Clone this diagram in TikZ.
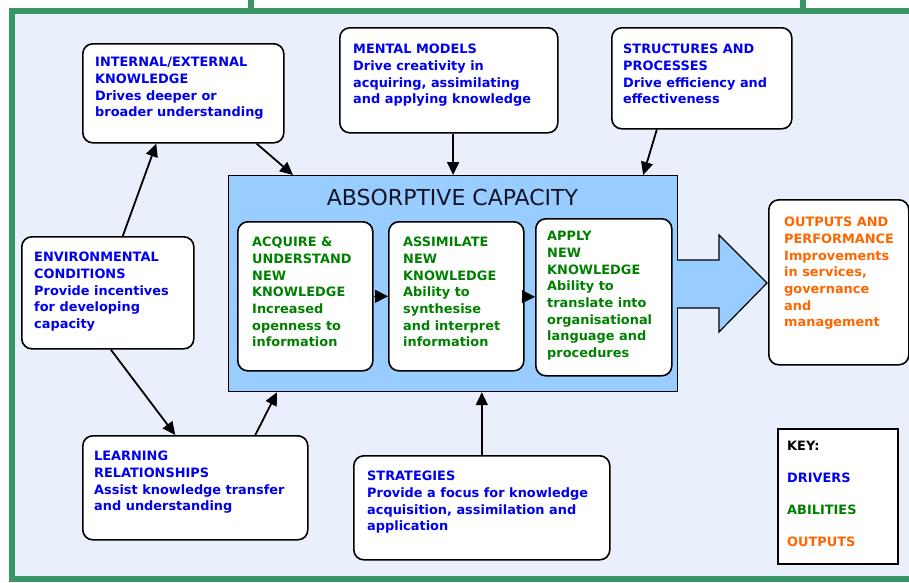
\documentclass[tikz,border=0pt]{standalone}
\usepackage{fontspec}
\setmainfont{DejaVu Sans}
\usetikzlibrary{arrows.meta,positioning}
\definecolor{drvblue}{RGB}{0,0,238}
\definecolor{ablgreen}{RGB}{0,128,0}
\definecolor{outorange}{RGB}{255,102,0}
\definecolor{capfill}{RGB}{153,204,255}
\definecolor{bgblue}{RGB}{234,240,251}
\definecolor{framegreen}{RGB}{56,150,100}
\definecolor{titleink}{RGB}{20,20,40}

\begin{document}
\begin{tikzpicture}[x=1pt,y=-1pt,
        box/.style={rectangle,draw,rounded corners=10pt,line width=1.6pt,fill=white,anchor=north west,inner sep=0pt},
        txt/.style={anchor=north west,inner sep=0pt,align=left,font=\bfseries\fontsize{12.9pt}{16.7pt}\selectfont},
        arrow/.style={-{Triangle[length=13pt,width=12pt]},line width=1.8pt},
        flow/.style={-{Triangle[length=13pt,width=13pt]},line width=1pt},
        frame/.style={framegreen,line width=6pt}
    ]
        \useasboundingbox (0,0) rectangle (909,582);
        \fill[bgblue] (12,11) rectangle (909,582);
        \draw[frame] (12,582) -- (12,11) -- (915,11);
        \draw[frame] (12,579) -- (915,579);
        \draw[frame] (251,0) -- (251,11);
        \draw[frame] (803,0) -- (803,11);

        % drivers
        \node[box,minimum width=201pt,minimum height=99pt] (intern) at (82,43) {};
        \node[txt,text=drvblue,below right=14pt and 13pt of intern.north west] (intern-t)
            {INTERNAL/EXTERNAL\\KNOWLEDGE\\Drives deeper or\\broader understanding};
        \node[box,minimum width=218pt,minimum height=105pt] (mental) at (339,27) {};
        \node[txt,text=drvblue,below right=17pt and 14pt of mental.north west] (mental-t)
            {MENTAL MODELS\\Drive creativity in\\acquiring, assimilating\\and applying knowledge};
        \node[box,minimum width=180pt,minimum height=101pt] (struct) at (611,27) {};
        \node[txt,text=drvblue,below right=17pt and 12pt of struct.north west] (struct-t)
            {STRUCTURES AND\\PROCESSES\\Drive efficiency and\\effectiveness};
        \node[box,minimum width=172pt,minimum height=112pt] (env) at (21,236) {};
        \node[txt,text=drvblue,below right=16pt and 13pt of env.north west] (env-t)
            {ENVIRONMENTAL\\CONDITIONS\\Provide incentives\\for developing\\capacity};
        \node[box,minimum width=225pt,minimum height=104pt] (learn) at (82,435) {};
        \node[txt,text=drvblue,below right=16pt and 12pt of learn.north west] (learn-t)
            {LEARNING\\RELATIONSHIPS\\Assist knowledge transfer\\and understanding};
        \node[box,minimum width=256pt,minimum height=104pt] (strat) at (353,455) {};
        \node[txt,text=drvblue,below right=16pt and 14pt of strat.north west] (strat-t)
            {STRATEGIES\\Provide a focus for knowledge\\acquisition, assimilation and\\application};

        % absorptive capacity
        \node[rectangle,draw,line width=1.2pt,fill=capfill,anchor=north west,minimum width=449pt,minimum height=216pt] (cap) at (228,175) {};
        \node[anchor=base,text=titleink,font=\fontsize{22pt}{26pt}\selectfont] (cap-t) at (452.5,205) {ABSORPTIVE CAPACITY};
        \fill[capfill] (675,260) -- (719,260) -- (719,235) -- (767,283) -- (719,332) -- (719,308) -- (675,308) -- cycle;
        \draw[line width=1.2pt] (677,260) -- (719,260) -- (719,235) -- (767,283) -- (719,332) -- (719,308) -- (677,308);

        \node[box,minimum width=135pt,minimum height=149pt] (acq) at (237,221) {};
        \node[txt,text=ablgreen,below right=16pt and 15pt of acq.north west] (acq-t)
            {ACQUIRE \&\\UNDERSTAND\\NEW\\KNOWLEDGE\\Increased\\openness to\\information};
        \node[box,minimum width=135pt,minimum height=149pt] (ass) at (388,221) {};
        \node[txt,text=ablgreen,below right=16pt and 15pt of ass.north west] (ass-t)
            {ASSIMILATE\\NEW\\KNOWLEDGE\\Ability to\\synthesise\\and interpret\\information};
        \node[box,minimum width=136pt,minimum height=157pt] (app) at (535,218) {};
        \node[txt,text=ablgreen,below right=13pt and 12pt of app.north west] (app-t)
            {APPLY\\NEW\\KNOWLEDGE\\Ability to\\translate into\\organisational\\language and\\procedures};

        \draw[flow] (acq) -- (ass);
        \draw[flow] (ass) -- (app);

        % outputs and key
        \node[box,minimum width=140pt,minimum height=165pt] (outp) at (768,199) {};
        \node[txt,text=outorange,below right=18pt and 16pt of outp.north west] (outp-t)
            {OUTPUTS AND\\PERFORMANCE\\Improvements\\in services,\\governance\\and\\management};
        \node[rectangle,draw,line width=2pt,fill=white,anchor=north west,minimum width=120pt,minimum height=135pt] (keybox) at (777,428) {};
        \node[txt,below right=13pt and 10pt of keybox.north west] (key-t)
            {KEY:\\[15.3pt]{\color{drvblue}DRIVERS}\\[15.3pt]{\color{ablgreen}ABILITIES}\\[15.3pt]{\color{outorange}OUTPUTS}};

        \draw[arrow] ([xshift=15pt]env.north) -- ([xshift=-27pt]intern.south);
        \draw[arrow] ([xshift=-28pt]intern.south east) -- ([xshift=65pt]cap.north west);
        \draw[arrow] (mental.south -| cap.north) -- (cap.north);
        \draw[arrow] ([xshift=-45pt]struct.south) -- ([xshift=-35pt]cap.north east);
        \draw[arrow] ([xshift=3pt]env.south) -- ([xshift=-20pt]learn.north);
        \draw[arrow] ([xshift=60pt]learn.north) -- ([xshift=49pt]cap.south west);
        \draw[arrow] (strat.north) -- (strat.north |- cap.south);
    \end{tikzpicture}
\end{document}
